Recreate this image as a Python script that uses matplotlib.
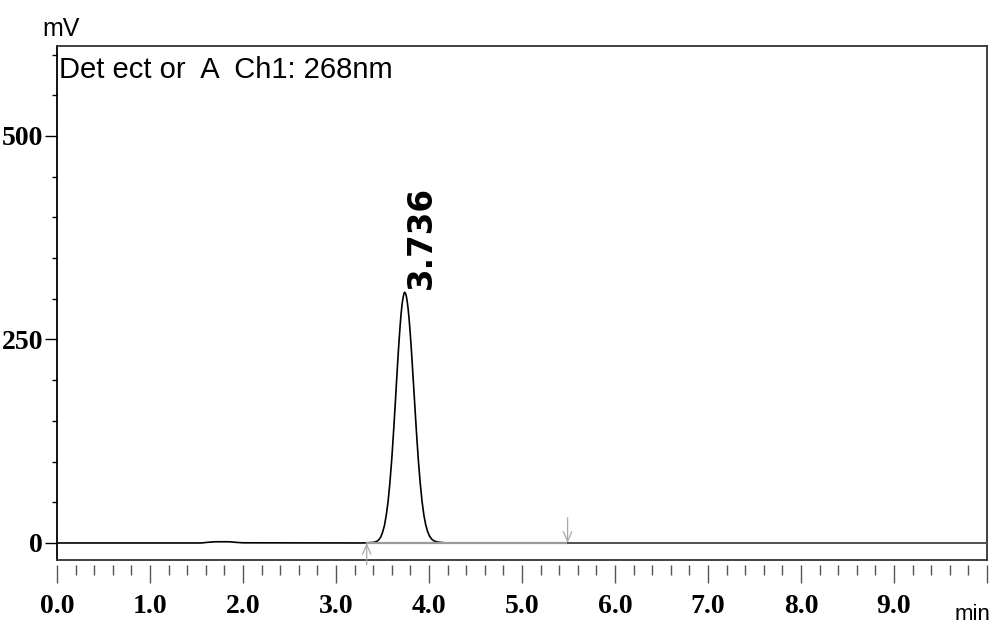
import matplotlib
matplotlib.use("Agg")
import matplotlib.pyplot as plt
from matplotlib.ticker import FixedLocator, MultipleLocator

# chromatogram trace (time in min, signal in mV)
time_min = [0.00, 1.55, 1.62, 1.70, 1.85, 1.92, 2.00, 3.30, 3.40, 3.44, 3.46,
            3.48, 3.50, 3.52, 3.54, 3.56, 3.58, 3.60, 3.62, 3.64, 3.65, 3.66,
            3.67, 3.68, 3.69, 3.70, 3.71, 3.72, 3.73, 3.736, 3.745, 3.755,
            3.765, 3.775, 3.785, 3.795, 3.805, 3.815, 3.825, 3.835, 3.845,
            3.865, 3.885, 3.905, 3.925, 3.945, 3.965, 3.985, 4.005, 4.03,
            4.06, 4.10, 4.16, 4.25, 10.0]
signal_mv = [0.0, 0.0, 0.8, 1.5, 1.5, 0.8, 0.2, 0.0, 0.7, 2.0, 4.0,
             7.0, 13.0, 21.0, 34.0, 51.0, 75.0, 104.0, 139.0, 177.0, 197.0, 216.0,
             235.0, 252.0, 268.0, 282.0, 293.0, 301.0, 306.0, 308.0, 307.0, 304.0,
             297.0, 288.0, 276.0, 262.0, 246.0, 229.0, 210.0, 192.0, 173.0,
             136.0, 102.0, 74.0, 51.0, 34.0, 22.0, 14.0, 8.5, 4.5,
             2.2, 1.0, 0.3, 0.0, 0.0]

# peak marker and integration limits
peak_time = 3.736
peak_label = "3.736"
peak_start = 3.33
peak_end = 5.49

x_major = [0, 1, 2, 3, 4, 5, 6, 7, 8, 9, 10]
x_labels = ["0.0", "1.0", "2.0", "3.0", "4.0", "5.0", "6.0", "7.0", "8.0", "9.0", ""]
y_major = [0, 250, 500]

sans = ["Liberation Sans", "DejaVu Sans"]

fig = plt.figure(figsize=(9.95, 6.28), dpi=100)
ax = fig.add_axes([0.0573, 0.1083, 0.9347, 0.8185])

ax.plot(time_min, signal_mv, color="black", lw=1.2, zorder=3)
ax.plot([peak_start, peak_end], [0, 0], color="#9a9a9a", lw=1.6, zorder=4)
ax.plot([peak_end, 10.0], [0, 0], color="#555555", lw=1.4, zorder=4)

ax.set_xlim(0, 10)
ax.set_ylim(-20.9, 610.6)

for s in ax.spines.values():
    s.set_color("#333333")
    s.set_linewidth(1.3)
ax.spines["left"].set_color("black")

# y axis
ax.yaxis.set_major_locator(FixedLocator(y_major))
ax.yaxis.set_minor_locator(MultipleLocator(50))
ax.tick_params(axis="y", which="major", direction="out", length=8.6, width=1.0,
               pad=1.5, labelsize=20)
ax.tick_params(axis="y", which="minor", direction="out", length=3.6, width=1.0)
for lab in ax.get_yticklabels():
    lab.set_fontfamily("Liberation Serif")
    lab.set_fontweight("bold")

# x ticks sit a little below the box
ax.tick_params(axis="x", which="both", bottom=False, labelbottom=False)
sec = ax.secondary_xaxis(-0.0097)
sec.spines["bottom"].set_visible(False)
sec.xaxis.set_major_locator(FixedLocator(x_major))
sec.xaxis.set_minor_locator(MultipleLocator(0.2))
sec.set_xticklabels(x_labels)
sec.tick_params(axis="x", which="major", direction="out", length=13, width=1.0,
                color="#555555", pad=8, labelsize=20)
sec.tick_params(axis="x", which="minor", direction="out", length=7.2, width=1.0,
                color="#555555")
for lab in sec.get_xticklabels():
    lab.set_fontfamily("Liberation Serif")
    lab.set_fontweight("bold")

# integration markers
ax.annotate("", xy=(peak_start, 0), xytext=(peak_start, -27),
            arrowprops=dict(arrowstyle="->,head_length=0.7,head_width=0.3",
                            color="#aaaaaa", lw=0.9, shrinkA=0, shrinkB=0),
            annotation_clip=False, zorder=5)
ax.annotate("", xy=(peak_end, 0), xytext=(peak_end, 31),
            arrowprops=dict(arrowstyle="->,head_length=0.7,head_width=0.3",
                            color="#aaaaaa", lw=0.9, shrinkA=0, shrinkB=0),
            annotation_clip=False, zorder=5)

ax.text(3.915, 312, peak_label, rotation=90, ha="center", va="bottom",
        fontsize=23.5, fontweight="bold", family="DejaVu Sans")

fig.text(59 / 995, 1 - 78 / 628, "Det ect or  A  Ch1: 268nm", family=sans,
         fontsize=21, va="baseline", ha="left")
fig.text(61 / 995, 1 - 29 / 628, "mV", family=sans, fontsize=18,
         ha="center", va="center")
fig.text(972 / 995, 1 - 614 / 628, "min", family=sans, fontsize=16,
         ha="center", va="center")

fig.savefig("out.png", dpi=100)
